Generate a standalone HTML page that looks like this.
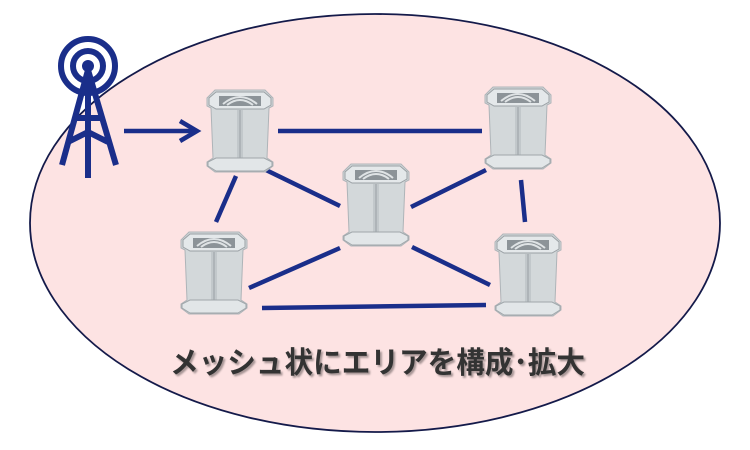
<!DOCTYPE html>
<html><head><meta charset="utf-8"><style>
html,body{margin:0;padding:0;background:#fff;width:750px;height:450px;overflow:hidden}
</style></head><body>
<svg width="750" height="450" viewBox="0 0 750 450" xmlns="http://www.w3.org/2000/svg">
<defs>
<g id="node">
 <path d="M0,12 L8,4 L58,4 L66,12 L66,20 L62,22 L60,72 L66,76 L66,80 L58,86 L8,86 L0,80 L0,76 L6,72 L4,22 L0,20 Z" fill="#d3d8da" stroke="#aeb4b8" stroke-width="1"/>
 <path d="M2,12 L9,6 L57,6 L64,12 L64,19 L57,23 L9,23 L2,19 Z" fill="#e4e8ea" stroke="#9aa0a4"/>
 <path d="M12,10 L54,10 L54,20 L12,20 Z" fill="#8c9398"/>
 <path d="M16,18 Q33,4 50,18" fill="none" stroke="#dfe3e5" stroke-width="2"/>
 <path d="M20,19 Q33,9 46,19" fill="none" stroke="#dfe3e5" stroke-width="2"/>
 <rect x="30" y="24" width="6" height="50" fill="#c2c8cb"/>
 <line x1="33" y1="24" x2="33" y2="74" stroke="#9aa0a4"/>
 <path d="M1,76 L9,72 L57,72 L65,76 L65,80 L57,85 L9,85 L1,80 Z" fill="#e2e6e8" stroke="#a0a6aa"/>
</g>
</defs>
<ellipse cx="375" cy="223" rx="345" ry="209" fill="#fde3e3" stroke="#141a4a" stroke-width="1.8"/>
<g stroke="#1a2e8a" stroke-width="4.5" fill="none">
 <line x1="278" y1="131" x2="482" y2="131"/>
 <line x1="236" y1="176" x2="216" y2="222"/>
 <line x1="521" y1="180" x2="525" y2="222"/>
 <line x1="266" y1="170" x2="340" y2="206"/>
 <line x1="411" y1="207" x2="486" y2="170"/>
 <line x1="249" y1="288" x2="340" y2="248"/>
 <line x1="412" y1="247" x2="490" y2="285"/>
 <line x1="262" y1="308" x2="486" y2="305"/>
 <line x1="124" y1="131" x2="194" y2="131"/>
 <polyline points="180,121 197,131 180,141" stroke-linejoin="miter"/>
</g>
<g stroke="#1a2e8a" fill="none">
 <circle cx="88" cy="66" r="27" stroke-width="6"/>
 <circle cx="88" cy="66" r="15" stroke-width="6"/>
 <circle cx="88" cy="66" r="6" fill="#1a2e8a" stroke="none"/>
 <g stroke-width="6">
 <line x1="88" y1="70" x2="62" y2="165"/>
 <line x1="88" y1="70" x2="116" y2="165"/>
 <line x1="88" y1="70" x2="88" y2="178"/>
 <line x1="74" y1="118" x2="102" y2="118"/>
 <line x1="68" y1="142" x2="88" y2="132"/>
 <line x1="108" y1="142" x2="88" y2="132"/>
 </g>
</g>
<use href="#node" x="207" y="86"/>
<use href="#node" x="485" y="83"/>
<use href="#node" x="343" y="160"/>
<use href="#node" x="181" y="228"/>
<use href="#node" x="495" y="230"/>
<text x="170" y="373" textLength="415" lengthAdjust="spacingAndGlyphs" font-family="'Liberation Sans','Noto Sans CJK JP',sans-serif" font-size="30" font-weight="bold" fill="#333" style="text-shadow:2px 2px 2px rgba(0,0,0,0.35)">メッシュ状にエリアを構成･拡大</text>
</svg>
</body></html>
